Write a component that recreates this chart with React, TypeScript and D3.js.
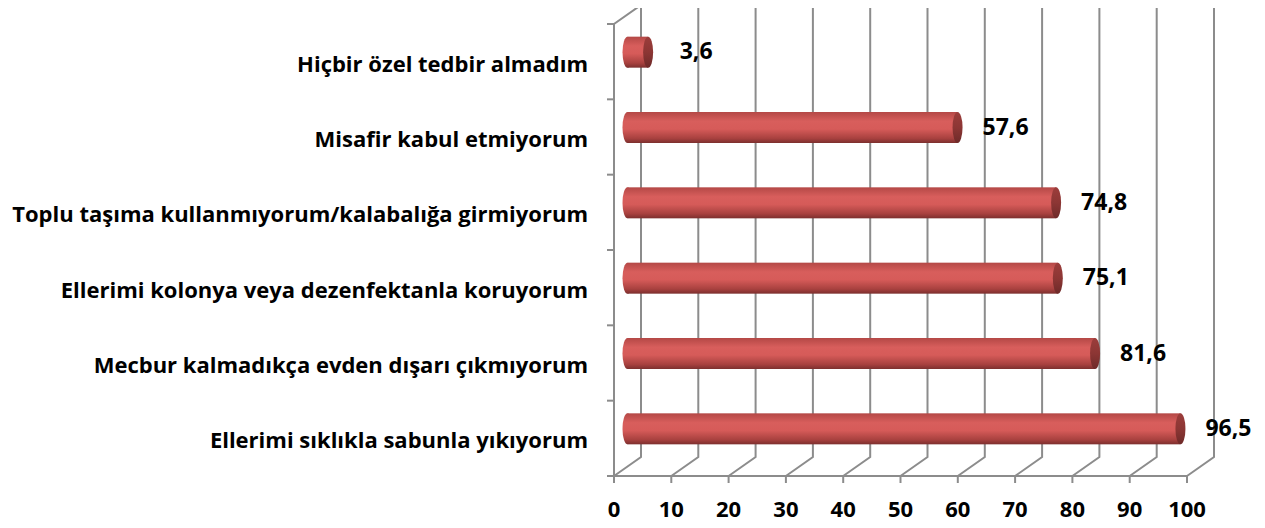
import * as React from 'react'
import * as d3 from 'd3'

const categories = [
  'Hiçbir özel tedbir almadım',
  'Misafir kabul etmiyorum',
  'Toplu taşıma kullanmıyorum/kalabalığa girmiyorum',
  'Ellerimi kolonya veya dezenfektanla koruyorum',
  'Mecbur kalmadıkça evden dışarı çıkmıyorum',
  'Ellerimi sıklıkla sabunla yıkıyorum',
];
const values = [3.6, 57.6, 74.8, 75.1, 81.6, 96.5];
const valueLabels = ['3,6', '57,6', '74,8', '75,1', '81,6', '96,5'];
const ticks = [0, 10, 20, 30, 40, 50, 60, 70, 80, 90, 100];

const W = 1265;
const H = 528;
const FONT = '"Open Sans", sans-serif';
const GRID = '#8c8c8c';

const App: React.FC = () => {
  // front plane of the 3D box
  const x = d3.scaleLinear().domain([0, 100]).range([606, 1179]);
  const y = d3.scaleBand<string>().domain(categories).range([16, 468]);
  const dx = 27;
  const dy = -19;
  const top = -3;
  const floorY = 468;
  const barH = 31;
  const capR = 5;

  const [x0, x1] = x.range();

  return (
    <svg width={W} height={H} style={{ display: 'block', margin: 0 }}>
      <defs>
        <linearGradient id="barGrad" x1="0" y1="0" x2="0" y2="1">
          <stop offset="0" stopColor="#b44846" />
          <stop offset="0.3" stopColor="#d85e5c" />
          <stop offset="0.55" stopColor="#d65b59" />
          <stop offset="0.85" stopColor="#a8413f" />
          <stop offset="1" stopColor="#7c2f2e" />
        </linearGradient>
        <linearGradient id="capGrad" x1="0" y1="0" x2="0" y2="1">
          <stop offset="0" stopColor="#9c3d3b" />
          <stop offset="0.5" stopColor="#8c3634" />
          <stop offset="1" stopColor="#6e2a29" />
        </linearGradient>
      </defs>

      {/* back gridlines + floor diagonals */}
      <g stroke={GRID} strokeWidth={2} fill="none">
        {ticks.map(t => (
          <path key={t}
            d={`M${x(t) + dx},${top} L${x(t) + dx},${floorY + dy} L${x(t)},${floorY}`} />
        ))}
        {/* left wall */}
        <path d={`M${x0 + dx},${top} L${x0},${y.range()[0]} L${x0},${floorY} L${x1},${floorY}`} />
        {/* left ticks */}
        {[...categories.map(c => y(c) as number), floorY].map((v, i) => (
          <line key={i} x1={x0 - 7} x2={x0} y1={v} y2={v} />
        ))}
        {/* bottom ticks */}
        {ticks.map(t => (
          <line key={t} x1={x(t)} x2={x(t)} y1={floorY} y2={floorY + 7} />
        ))}
      </g>

      {/* cylinders */}
      {categories.map((c, i) => {
        const cy = (y(c) as number) + y.bandwidth() / 2 + dy / 2;
        const bx0 = x(0) + dx / 2;
        const bx1 = x(values[i]) + dx / 2;
        return (
          <g key={c}>
            <ellipse cx={bx0} cy={cy} rx={capR} ry={barH / 2} fill="url(#barGrad)" />
            <rect x={bx0} y={cy - barH / 2} width={bx1 - bx0} height={barH} fill="url(#barGrad)" />
            <ellipse cx={bx1} cy={cy} rx={capR} ry={barH / 2} fill="url(#capGrad)" />
            <text x={bx1 + 48} y={cy - 2} textAnchor="middle" dominantBaseline="central"
              fontFamily={FONT} fontWeight="bold" fontSize={23} fill="#000">
              {valueLabels[i]}
            </text>
          </g>
        );
      })}

      {/* category labels */}
      {categories.map(c => (
        <text key={c} x={x0 - 26} y={(y(c) as number) + y.bandwidth() / 2 + 1}
          textAnchor="end" dominantBaseline="central"
          fontFamily={FONT} fontWeight="bold" fontSize={22} fill="#000">
          {c}
        </text>
      ))}

      {/* x tick labels */}
      {ticks.map(t => (
        <text key={t} x={x(t)} y={floorY + 32} textAnchor="middle" dominantBaseline="central"
          fontFamily={FONT} fontWeight="bold" fontSize={22} fill="#000">
          {t}
        </text>
      ))}
    </svg>
  );
};

export default App;
